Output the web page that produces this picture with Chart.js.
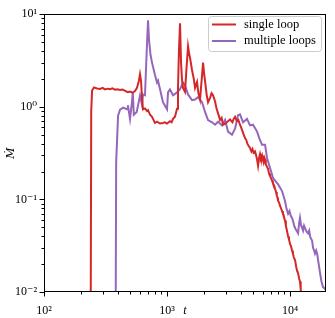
<!DOCTYPE html>
<html>
<head>
<meta charset="utf-8">
<script src="https://cdn.jsdelivr.net/npm/chart.js@4.4.0/dist/chart.umd.min.js"></script>
<style>
  body { margin: 0; background: #fff; }
  #wrap { width: 335px; height: 318px; }
</style>
</head>
<body>
<div id="wrap"><canvas id="chart" width="335" height="318"></canvas></div>
<script>
// single loop (red)
const singleT = [237, 240, 242, 246, 255, 270, 285, 300, 313, 330,
  344, 360, 378, 395, 415, 435, 456, 480, 500, 525,
  549, 570, 590, 603, 615, 627, 638, 662, 688, 701,
  728, 755, 798, 829, 877, 927, 963, 1000, 1057, 1090,
  1119, 1160, 1206, 1228, 1250, 1276, 1300, 1324, 1349, 1400,
  1440, 1482, 1510, 1538, 1596, 1650, 1690, 1754, 1800, 1854,
  1927, 1963, 2000, 2037, 2100, 2155, 2239, 2300, 2366, 2455,
  2530, 2600, 2700, 2780, 2852, 3000, 3133, 3252, 3400, 3480,
  3573, 3700, 3800, 3919, 4000, 4100, 4200, 4306, 4400, 4500,
  4600, 4729, 4850, 4950, 5050, 5188, 5300, 5393, 5495, 5600,
  5702, 5800, 5916, 6000, 6100, 6200, 6266, 6350, 6450, 6550,
  6623, 6750, 6871, 7000, 7138, 7250, 7350, 7450, 7551, 7700,
  7800, 7900, 7980, 8150, 8300, 8450, 8610, 8750, 8850, 9000,
  9100, 9250, 9400, 9500, 9638, 9800, 10000, 10200, 10380, 10550,
  10700, 10850, 10990, 11200, 11400, 11500, 11620, 11850, 12050, 12150,
  12270, 12600];
const singleM = [0.001, 0.01, 0.9, 1.5, 1.62, 1.58, 1.56, 1.6, 1.54, 1.57,
  1.55, 1.58, 1.53, 1.55, 1.52, 1.54, 1.49, 1.44, 1.46, 1.42,
  1.48, 1.6, 1.9, 2.25, 1.9, 1.2, 0.94, 0.96, 0.9, 0.92,
  0.82, 0.78, 0.67, 0.69, 0.66, 0.67, 0.68, 0.66, 0.7, 0.68,
  0.74, 0.78, 0.95, 1.6, 4.0, 8.0, 3.0, 1.95, 1.6, 1.45,
  2.6, 4.5, 3.8, 3.4, 2.5, 2.0, 1.6, 1.85, 1.4, 1.2,
  2.2, 3.0, 2.3, 1.9, 1.35, 1.12, 1.25, 1.4, 1.33, 1.15,
  0.95, 0.85, 0.72, 0.76, 0.64, 0.66, 0.7, 0.73, 0.68, 0.74,
  0.78, 0.7, 0.72, 0.64, 0.6, 0.55, 0.5, 0.46, 0.44, 0.4,
  0.38, 0.36, 0.33, 0.35, 0.32, 0.33, 0.3, 0.27, 0.23, 0.28,
  0.31, 0.28, 0.3, 0.27, 0.25, 0.28, 0.27, 0.24, 0.23, 0.22,
  0.215, 0.19, 0.18, 0.17, 0.16, 0.15, 0.145, 0.14, 0.13, 0.12,
  0.11, 0.105, 0.097, 0.092, 0.085, 0.08, 0.075, 0.07, 0.068, 0.062,
  0.059, 0.052, 0.047, 0.044, 0.04, 0.037, 0.033, 0.031, 0.028, 0.026,
  0.024, 0.023, 0.022, 0.019, 0.017, 0.0165, 0.016, 0.014, 0.013, 0.0115,
  0.0105, 0.008];

// multiple loops (purple)
const multiT = [378, 383, 386, 400, 415, 440, 473, 481, 500, 518,
  527, 537, 567, 603, 627, 638, 662, 688, 701, 714,
  735, 755, 798, 829, 845, 877, 927, 1000, 1019, 1057,
  1119, 1206, 1276, 1349, 1400, 1482, 1596, 1690, 1787, 1927,
  2037, 2155, 2323, 2455, 2600, 2800, 2963, 3133, 3374, 3573,
  3776, 3919, 4150, 4467, 4729, 5000, 5393, 5650, 5916, 6266,
  6501, 6871, 7275, 7980, 8610, 9100, 9350, 9638, 9900, 10150,
  10380, 10600, 10800, 10990, 11300, 11620, 11850, 12050, 12300, 12500,
  12760, 13000, 13240, 13600, 14000, 14300, 14600, 15100, 15380, 15700,
  15960, 16300, 16600, 17000, 17540, 18000, 18540, 19000, 19600];
const multiM = [0.001, 0.01, 0.25, 0.8, 0.93, 0.98, 0.94, 1.04, 0.74, 1.1,
  1.43, 0.82, 0.88, 1.32, 1.04, 1.36, 1.33, 4.9, 8.6, 5.3,
  3.6, 3.0, 2.2, 1.83, 1.92, 1.55, 1.12, 0.94, 1.43, 1.54,
  1.33, 1.43, 1.55, 1.83, 1.7, 1.36, 1.18, 1.2, 1.27, 1.12,
  0.88, 0.72, 0.68, 0.64, 0.69, 0.63, 0.72, 0.54, 0.5, 0.58,
  0.81, 0.83, 0.68, 0.74, 0.63, 0.64, 0.54, 0.45, 0.39, 0.39,
  0.28, 0.22, 0.17, 0.146, 0.123, 0.096, 0.08, 0.07, 0.075, 0.066,
  0.063, 0.058, 0.052, 0.049, 0.046, 0.043, 0.055, 0.063, 0.052, 0.05,
  0.046, 0.052, 0.049, 0.045, 0.043, 0.046, 0.039, 0.036, 0.03, 0.028,
  0.026, 0.028, 0.026, 0.021, 0.016, 0.013, 0.0113, 0.011, 0.0105];

const xTickValues = [100, 1000, 10000];
const xTickLabels = ['10²', '10³', '10⁴'];
const yTickValues = [0.01, 0.1, 1, 10];
const yTickLabels = ['10⁻²', '10⁻¹', '10⁰', '10¹'];

const toPoints = (ts, ms) => ts.map((t, i) => ({ x: t, y: ms[i] }));
const serif = "'Liberation Serif', 'DejaVu Serif', serif";

// frame, minor ticks and legend, matplotlib style
const axesDecor = {
  id: 'axesDecor',
  afterDatasetsDraw(chart) {
    const { ctx, chartArea: a, scales: { x, y } } = chart;
    ctx.save();
    ctx.strokeStyle = '#000';
    ctx.lineWidth = 1;

    const tick = (px, len, horiz) => {
      ctx.beginPath();
      if (horiz) { ctx.moveTo(px, a.bottom); ctx.lineTo(px, a.bottom + len); }
      else { ctx.moveTo(a.left, px); ctx.lineTo(a.left - len, px); }
      ctx.stroke();
    };
    for (let d = 100; d <= 10000; d *= 10) {
      for (let k = 1; k <= 9; k++) {
        const v = d * k;
        if (v > x.max) break;
        tick(Math.round(x.getPixelForValue(v)) + 0.5, k === 1 ? 4.5 : 2.5, true);
      }
    }
    for (let d = 0.01; d <= 10; d *= 10) {
      for (let k = 1; k <= 9; k++) {
        const v = d * k;
        if (v > y.max * 1.0001) break;
        tick(Math.round(y.getPixelForValue(v)) + 0.5, k === 1 ? 4.5 : 2.5, false);
      }
    }
    ctx.strokeRect(Math.round(a.left) + 0.5, Math.round(a.top) + 0.5,
      Math.round(a.right - a.left) - 1, Math.round(a.bottom - a.top) - 1);

    // legend
    const lx = 208, ly = 16, lw = 113, lh = 35;
    ctx.beginPath();
    ctx.roundRect(lx + 0.5, ly + 0.5, lw, lh, 3);
    ctx.fillStyle = 'rgba(255,255,255,0.8)';
    ctx.fill();
    ctx.strokeStyle = '#cccccc';
    ctx.stroke();
    ctx.font = '12.5px ' + serif;
    ctx.textBaseline = 'middle';
    chart.data.datasets.forEach((ds, i) => {
      const yy = 24.5 + i * 16.5;
      ctx.strokeStyle = ds.borderColor;
      ctx.lineWidth = 2;
      ctx.beginPath();
      ctx.moveTo(212, yy);
      ctx.lineTo(236, yy);
      ctx.stroke();
      ctx.fillStyle = '#000';
      ctx.fillText(ds.label, 244, yy);
    });
    ctx.restore();
  }
};

new Chart(document.getElementById('chart'), {
  type: 'line',
  data: {
    datasets: [{
      label: 'single loop',
      data: toPoints(singleT, singleM),
      borderColor: '#d62728',
      borderWidth: 2,
      pointRadius: 0,
      tension: 0
    }, {
      label: 'multiple loops',
      data: toPoints(multiT, multiM),
      borderColor: '#9467bd',
      borderWidth: 2,
      pointRadius: 0,
      tension: 0
    }]
  },
  options: {
    responsive: false,
    animation: false,
    events: [],
    layout: { padding: { top: 11, right: 9, left: 0, bottom: 0 } },
    plugins: { legend: { display: false }, tooltip: { enabled: false } },
    scales: {
      x: {
        type: 'logarithmic',
        min: 100,
        max: 19600,
        afterBuildTicks: (s) => { s.ticks = xTickValues.map(v => ({ value: v, major: true })); },
        afterFit: (s) => { s.height = 26; },
        grid: { display: false, drawTicks: false },
        border: { display: false },
        ticks: {
          autoSkip: false,
          maxRotation: 0,
          padding: 12,
          color: '#000',
          font: { family: serif, size: 12 },
          callback: (v, i) => xTickLabels[i]
        },
        title: {
          display: true,
          text: 't',
          color: '#000',
          padding: { top: 0, bottom: 0 },
          font: { family: serif, size: 12, style: 'italic' }
        }
      },
      y: {
        type: 'logarithmic',
        min: 0.01,
        max: 10,
        afterBuildTicks: (s) => { s.ticks = yTickValues.map(v => ({ value: v, major: true })); },
        afterFit: (s) => { s.width = 44; },
        grid: { display: false, drawTicks: false },
        border: { display: false },
        ticks: {
          autoSkip: false,
          padding: 7,
          color: '#000',
          font: { family: serif, size: 12 },
          callback: (v, i) => yTickLabels[i]
        },
        title: {
          display: true,
          text: 'Ṁ',
          color: '#000',
          padding: { top: 5, bottom: 0 },
          font: { family: "'DejaVu Serif', serif", size: 11, style: 'italic' }
        }
      }
    }
  },
  plugins: [axesDecor]
});
</script>
</body>
</html>
